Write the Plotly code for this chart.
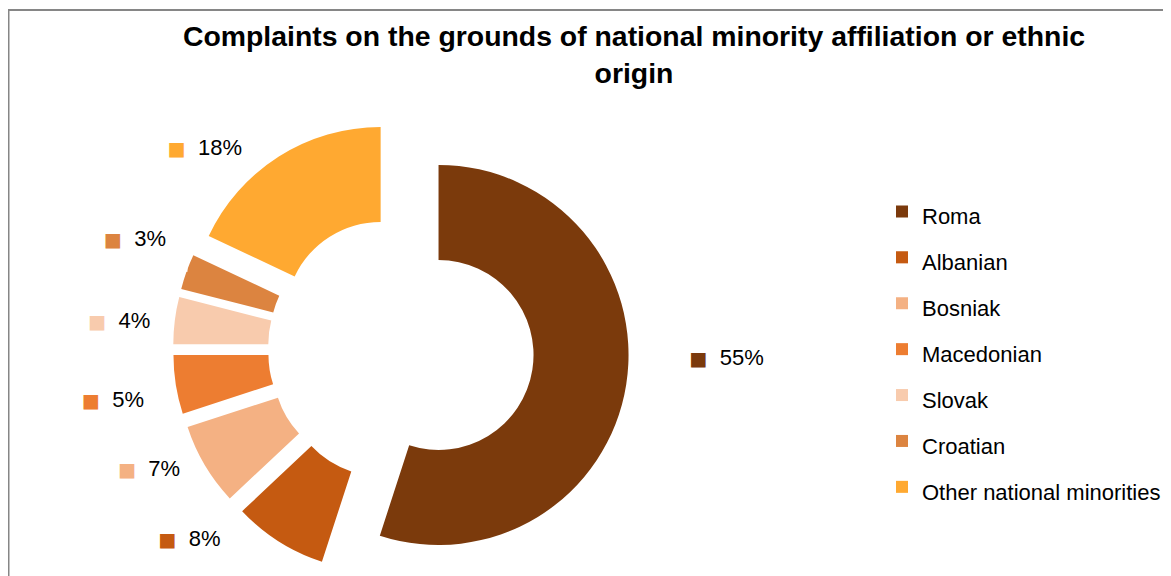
import plotly.graph_objects as go

categories = ["Roma", "Albanian", "Bosniak", "Macedonian", "Slovak", "Croatian", "Other national minorities"]
shares = [55, 8, 7, 5, 4, 3, 18]
colors = ["#7B3A0C", "#C55A11", "#F4B183", "#ED7D31", "#F8CBAD", "#DC8440", "#FFA931"]

W, H = 1171, 576
NB = "\u00a0"
# label layout tweaks (spacing only): leading/trailing nbsp, blank lines before/after
pad_lead = [7, 0, 0, 0, 0, 0, 0]
pad_trail = [0, 5, 3, 3, 3, 0, 5]
lines_before = [0, 0, 0, 1, 0, 0, 0]
lines_after = [2, 3, 0, 0, 0, 2, 0]

texts = []
for v, c, pl, pt, lb, la in zip(shares, colors, pad_lead, pad_trail, lines_before, lines_after):
    core = (NB * pl
            + f"<span style='color:{c};font-family:DejaVu Sans;font-size:19px'>■</span>"
            + NB * 2 + f"<span style='color:#000000'>{v}%</span>" + NB * pt)
    texts.append((NB + "<br>") * lb + core + ("<br>" + NB) * la)

legend_labels = [f"<span style='font-size:22px'>{c}</span>" for c in categories]

fig = go.Figure()
fig.add_trace(go.Pie(
    labels=legend_labels,
    values=shares,
    text=texts,
    textinfo="text",
    textposition="outside",
    # white base colour hides connector lines on the white page; visible text is coloured via spans
    outsidetextfont=dict(family="Liberation Sans, Arial", size=22, color="#FFFFFF"),
    marker=dict(colors=colors, line=dict(width=0)),
    hole=0.5,
    pull=[0.2] * len(shares),
    sort=False,
    direction="clockwise",
    rotation=0,
    hoverinfo="skip",
    domain=dict(x=[165 / W, 621 / W], y=[0, 1]),
))

fig.update_layout(
    width=W, height=H,
    margin=dict(l=0, r=0, t=113, b=7, autoexpand=False),
    paper_bgcolor="white",
    plot_bgcolor="white",
    title=dict(
        text="Complaints on the grounds of national minority affiliation or ethnic<br>origin",
        font=dict(family="Liberation Sans, Arial", size=28.4, color="#000000", weight="bold"),
        x=626 / W, xanchor="center", xref="paper",
        y=1 - 38 / H, yanchor="top", yref="container",
    ),
    legend=dict(
        x=874 / W, xanchor="left",
        y=(569 - 175.5) / 456, yanchor="top",
        font=dict(family="Liberation Sans, Arial", size=33, color="#000000"),
        bgcolor="rgba(0,0,0,0)",
        borderwidth=0,
    ),
    shapes=[dict(
        type="rect", xref="paper", yref="paper",
        x0=0.5 / W, x1=1.05, y0=-0.1, y1=(569 - 2) / 456,
        line=dict(color="#868686", width=2), fillcolor="rgba(0,0,0,0)",
    )],
)

fig.write_html("out.html")
